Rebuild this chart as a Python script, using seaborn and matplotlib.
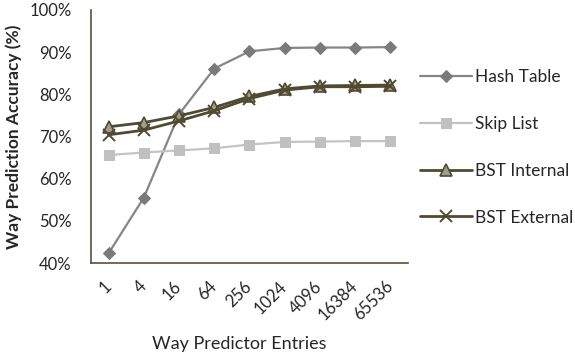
import matplotlib
matplotlib.use("Agg")
import matplotlib.pyplot as plt
import seaborn as sns
import pandas as pd
import numpy as np

entries = ["1", "4", "16", "64", "256", "1024", "4096", "16384", "65536"]
hash_table = [42.3, 55.5, 75.3, 86.1, 90.2, 91.0, 91.1, 91.1, 91.2]
skip_list = [65.6, 66.2, 66.7, 67.2, 68.1, 68.7, 68.8, 68.9, 68.9]
bst_internal = [72.3, 73.3, 74.9, 76.9, 79.5, 81.3, 82.0, 82.1, 82.2]
bst_external = [70.4, 71.5, 73.7, 76.1, 79.0, 81.0, 81.8, 81.8, 81.9]

sns.set_style("white")
plt.rcParams['font.family'] = ['Lato', 'DejaVu Sans']

fig = plt.figure(figsize=(5.75, 3.57), dpi=100)
ax = fig.add_axes([91/575, 1-263/357, (408-91)/575, (263-10)/357])

xpos = np.arange(len(entries))
olive = "#4f4a30"
series = [
    ("Hash Table", hash_table, dict(color="#868686", marker="D", markersize=6.5, markerfacecolor="#7a7a7a", markeredgecolor="#7a7a7a", linewidth=1.6)),
    ("Skip List", skip_list, dict(color="#c4c4c4", marker="s", markersize=7, markerfacecolor="#c0c0c0", markeredgecolor="#c0c0c0", linewidth=1.6)),
    ("BST Internal", bst_internal, dict(color=olive, marker="^", markersize=8, markerfacecolor="#a09d90", markeredgecolor=olive, markeredgewidth=1.2, linewidth=2.0)),
    ("BST External", bst_external, dict(color=olive, marker="x", markersize=9, markeredgecolor=olive, markeredgewidth=1.4, linewidth=2.0)),
]
for name, vals, kw in series:
    df = pd.DataFrame({"x": xpos, "y": vals})
    sns.lineplot(data=df, x="x", y="y", ax=ax, label=name, **kw)

ax.set_xlim(-0.5, 8.5)
ax.set_ylim(40, 100)
ax.set_yticks(np.arange(40, 101, 10))
ax.set_yticklabels([f"{v}%" for v in range(40, 101, 10)], fontsize=12)
ax.set_xticks(list(xpos) + [8.5])
ax.set_xticklabels(entries + [""], rotation=45, fontsize=12, ha="right", va="center",
                   rotation_mode="anchor")
ax.tick_params(axis="x", direction="inout", length=8, width=1.2, color="#5a5238", pad=11)
ax.tick_params(axis="y", direction="out", length=5, width=1.2, color="#5a5238", pad=9)
for s in ["top", "right"]:
    ax.spines[s].set_visible(False)
for s in ["left", "bottom"]:
    ax.spines[s].set_color("#5a5238")
    ax.spines[s].set_linewidth(1.2)

ax.set_xlabel("Way Predictor Entries", fontsize=13)
ax.xaxis.set_label_coords(0.467, -0.29)
ax.set_ylabel("Way Prediction Accuracy (%)", fontsize=12.5, fontweight="bold", labelpad=5)

ax.legend(loc="upper left", bbox_to_anchor=(1.015, 0.795), frameon=False, fontsize=12.5,
          labelspacing=1.78, handlelength=3.0, handletextpad=0.2, borderaxespad=0)

fig.savefig("out.png", dpi=100)
